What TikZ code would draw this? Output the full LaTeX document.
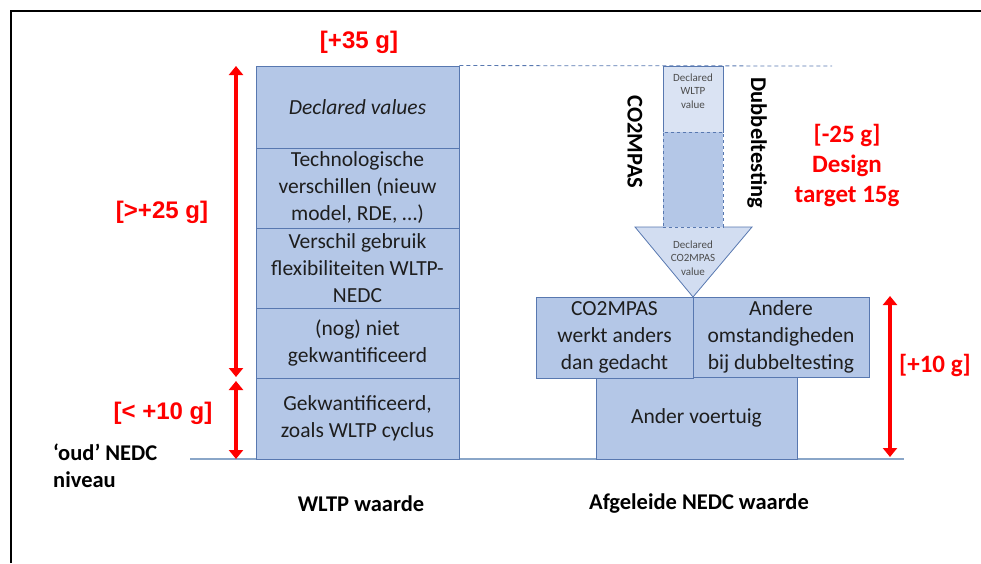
\documentclass[tikz,border=0pt]{standalone}
\usepackage{fontspec}
\setmainfont{Carlito}
\newfontfamily\arialfont{Liberation Sans}
\usetikzlibrary{arrows.meta}
\definecolor{blokvul}{HTML}{B4C7E7}
\definecolor{bloklijn}{HTML}{5878B0}
\definecolor{lichtvul}{HTML}{DAE3F3}
\definecolor{kopvul}{HTML}{D2DDF1}
\definecolor{basislijn}{HTML}{8AA6C8}
\definecolor{roodkleur}{HTML}{FF0000}
\definecolor{tekstkleur}{HTML}{1E1E1E}
\begin{document}
\begin{tikzpicture}[x=1pt,y=-1pt]
    \tikzstyle{blok}=[draw=bloklijn,fill=blokvul,line width=0.9pt,inner sep=0pt,align=center,text=tekstkleur,font=\fontsize{21.5}{27}\selectfont];
    \tikzstyle{klein}=[inner sep=0pt,align=center,text=black!70,font=\fontsize{11}{13.5}\selectfont];
    \tikzstyle{gram}=[inner sep=0pt,text=roodkleur,font=\arialfont\bfseries\fontsize{24}{28}\selectfont];
    \tikzstyle{gramc}=[inner sep=0pt,align=center,text=roodkleur,font=\bfseries\fontsize{25}{30}\selectfont];
    \tikzstyle{zwart}=[inner sep=0pt,align=left,font=\bfseries\fontsize{22.5}{26.5}\selectfont];
    \tikzstyle{pijl}=[roodkleur,line width=4pt,{Triangle[width=14pt,length=9pt]}-{Triangle[width=14pt,length=9pt]}];
    \useasboundingbox (0,0) rectangle (981,563);
    %frame
    \draw[line width=2.2pt] (11,563) -- (11,11) -- (981,11);

    \coordinate (bl) at (190,459);
    \coordinate (br) at (904,459);
    \draw[basislijn,line width=1.5pt] (bl) -- (br);

    %WLTP kolom
    \node[blok,minimum width=203pt,minimum height=82pt] (decl) at (357.5,107) {\itshape Declared values};
    \node[blok,minimum width=203pt,minimum height=80pt] (tech) at (357.5,188) {Technologische\\verschillen (nieuw\\model, RDE, \dots)};
    \node[blok,minimum width=203pt,minimum height=80pt] (flex) at (357.5,268) {Verschil gebruik\\flexibiliteiten WLTP-\\NEDC};
    \node[blok,minimum width=203pt,minimum height=70pt] (nog) at (357.5,343) {(nog) niet\\gekwantificeerd};
    \node[blok,minimum width=203pt,minimum height=81pt] (gekw) at (357.5,418.5) {Gekwantificeerd,\\zoals WLTP cyclus};

    %NEDC kolom
    \node[blok,minimum width=201pt,minimum height=82pt] (voert) at (696.5,418) {Ander voertuig};
    \node[blok,minimum width=157pt,minimum height=81pt] (anders) at (614.5,337.5) {CO2MPAS\\werkt anders\\dan gedacht};
    \node[blok,minimum width=176pt,minimum height=80pt] (omst) at (781,337) {Andere\\omstandigheden\\bij dubbeltesting};

    %pijl
    \coordinate (dashend) at (832,66);
    \draw[bloklijn,line width=0.8pt,dash pattern=on 4pt off 3pt] (decl.north east) -- (dashend);
    \filldraw[draw=bloklijn,fill=kopvul,line width=0.8pt] (663,227) -- (635,227) -- (693,297) -- (752,227) -- (723,227);
    \node[draw=bloklijn,fill=lichtvul,line width=0.8pt,inner sep=0pt,minimum width=60pt,minimum height=66pt] (wltpdecl) at (693,99) {};
    \node[draw=bloklijn,fill=blokvul,dashed,line width=0.8pt,inner sep=0pt,minimum width=60pt,minimum height=95pt] (midden) at (693,179.5) {};
    \node[klein] (wltptxt) at (693,91) {Declared\\WLTP\\value};
    \node[klein] (co2txt) at (693,258) {Declared\\CO2MPAS\\value};
    \node[zwart,rotate=-90] (co2mpas) at (635,142) {CO2MPAS};
    \node[zwart,rotate=-90] (dubbel) at (757,143) {Dubbeltesting};

    %rode pijlen
    \coordinate (a35) at (236,66);
    \coordinate (a25) at (236,377);
    \coordinate (a10) at (236,381);
    \coordinate (a0) at (236,459);
    \coordinate (b10) at (890,296);
    \coordinate (b0) at (890,457);
    \draw[pijl] (a35) -- (a25);
    \draw[pijl] (a10) -- (a0);
    \draw[pijl] (b10) -- (b0);

    %labels
    \node[gram] (l35) at (359,42) {[+35 g]};
    \node[gram] (l25) at (162,212) {[>+25 g]};
    \node[gram] (l10) at (163,413) {[< +10 g]};
    \node[gramc] (lmin25) at (847,165) {[-25 g]\\Design\\target 15g};
    \node[gramc] (lplus10) at (935,365) {[+10 g]};
    \node[zwart,anchor=west] (oud) at (53,466) {‘oud’ NEDC\\niveau};
    \node[zwart] (wltp) at (361,504) {WLTP waarde};
    \node[zwart] (nedc) at (699,503) {Afgeleide NEDC waarde};
\end{tikzpicture}
\end{document}
